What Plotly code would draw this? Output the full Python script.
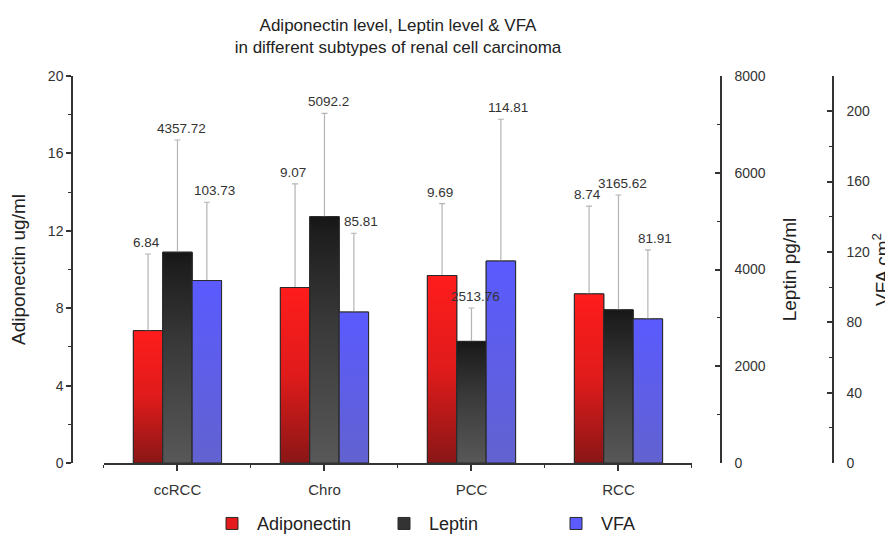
import plotly.graph_objects as go

# ---------------- data ----------------
categories = ["ccRCC", "Chro", "PCC", "RCC"]

adiponectin = [6.84, 9.07, 9.69, 8.74]
adiponectin_err = [3.96, 5.36, 3.71, 4.54]

leptin = [4357.72, 5092.2, 2513.76, 3165.62]
leptin_err = [2319, 2137, 690, 2374]

vfa = [103.73, 85.81, 114.81, 81.91]
vfa_err = [44.5, 44.8, 80.6, 39.2]

# ---------------- styling ----------------
FONT = "Liberation Sans, Arial, sans-serif"
AXC = "#333333"
BAR_W = 0.2

series = [
    dict(name="Adiponectin", vals=adiponectin, err=adiponectin_err, yaxis="y", off=-0.3,
         legend_color="#E41B1B", label_dx=-2,
         scale=[[0, "#8A1616"], [0.5, "#E01B1B"], [1, "#FF1C1C"]]),
    dict(name="Leptin", vals=leptin, err=leptin_err, yaxis="y2", off=-0.1,
         legend_color="#333333", label_dx=4.5,
         scale=[[0, "#585858"], [0.55, "#3A3A3A"], [0.93, "#1E1E1E"], [1, "#161616"]]),
    dict(name="VFA", vals=vfa, err=vfa_err, yaxis="y3", off=0.1,
         legend_color="#5B5BFF", label_dx=7.5,
         scale=[[0, "#6262D0"], [1, "#5A5AFF"]]),
]

idx = list(range(len(categories)))
fig = go.Figure()

# real bars (legend + error bars)
for s in series:
    fig.add_trace(go.Bar(
        name=s["name"], x=idx, y=s["vals"], width=BAR_W, offset=s["off"],
        yaxis=s["yaxis"],
        marker=dict(color=s["legend_color"], line=dict(color="#2a2a2a", width=1)),
        error_y=dict(type="data", symmetric=False, array=s["err"],
                     arrayminus=[0] * len(s["err"]),
                     color="#b4b4b4", thickness=1.2, width=3),
        hoverinfo="skip",
    ))

# gradient overlay for each bar, built from the same values
for s in series:
    for i, v in zip(idx, s["vals"]):
        x0 = i + s["off"]
        x1 = x0 + BAR_W
        fig.add_trace(go.Scatter(
            x=[x0, x1, x1, x0, x0], y=[0, 0, v, v, 0],
            yaxis=s["yaxis"], mode="lines", fill="toself",
            fillgradient=dict(type="vertical", colorscale=s["scale"], start=0, stop=v),
            line=dict(color="#2a2a2a", width=1),
            showlegend=False, hoverinfo="skip",
        ))

# value labels above error bars
annotations = []
for s in series:
    for i, v, e in zip(idx, s["vals"], s["err"]):
        annotations.append(dict(
            x=i + s["off"] + BAR_W / 2, y=v + e, xref="x", yref=s["yaxis"],
            text=f"{v:g}", showarrow=False, yanchor="bottom", yshift=2,
            xshift=s["label_dx"],
            font=dict(family=FONT, size=13.5, color="#333333"),
        ))

tickfont = dict(family=FONT, size=14, color="#333333")
titlefont = dict(family=FONT, size=19, color="#222222")

fig.update_layout(
    width=885, height=528,
    margin=dict(l=64, r=60, t=68, b=73, autoexpand=False),
    paper_bgcolor="white", plot_bgcolor="white",
    barmode="overlay",
    title=dict(
        text="Adiponectin level, Leptin level & VFA<br>in different subtypes of renal cell carcinoma",
        x=0.4407, xref="container", xanchor="center",
        y=0.9564, yref="container", yanchor="middle",
        font=dict(family=FONT, size=17, color="#222222"),
    ),
    font=dict(family=FONT),
    showlegend=True,
    legend=dict(orientation="h", x=0.1774, xanchor="left", y=-0.157, yanchor="middle",
                font=dict(family=FONT, size=18, color="#222222"),
                entrywidth=117, entrywidthmode="pixels", itemwidth=40,
                bgcolor="rgba(0,0,0,0)"),
    annotations=annotations,
    xaxis=dict(
        domain=[0.042, 0.8147], range=[-0.5, 3.5], anchor="y",
        tickmode="array", tickvals=idx, ticktext=categories,
        ticks="outside", ticklen=6, tickwidth=1.5, tickcolor=AXC,
        minor=dict(tick0=-0.5, dtick=1, ticks="outside", ticklen=3, tickwidth=1.2, tickcolor=AXC),
        showline=True, linecolor=AXC, linewidth=1.5, ticklabelstandoff=6,
        showgrid=False, zeroline=False,
        tickfont=dict(family=FONT, size=15, color="#333333"),
    ),
    yaxis=dict(
        anchor="free", position=0, range=[0, 20], tick0=0, dtick=4,
        ticks="outside", ticklen=5, tickwidth=1.5, tickcolor=AXC,
        minor=dict(dtick=2, ticks="outside", ticklen=3, tickwidth=1.2, tickcolor=AXC),
        showline=True, linecolor=AXC, linewidth=1.5,
        showgrid=False, zeroline=False, tickfont=tickfont,
        title=dict(text="Adiponectin ug/ml", font=titlefont, standoff=16),
    ),
    yaxis2=dict(
        overlaying="y", side="right", anchor="free", position=0.8528,
        range=[0, 8000], tick0=0, dtick=2000,
        ticks="inside", ticklen=5, tickwidth=1.5, tickcolor=AXC,
        minor=dict(dtick=1000, ticks="inside", ticklen=3, tickwidth=1.2, tickcolor=AXC),
        showline=True, linecolor=AXC, linewidth=1.5, ticklabelstandoff=10,
        showgrid=False, zeroline=False, tickfont=tickfont,
        title=dict(text="Leptin pg/ml", font=titlefont, standoff=17),
    ),
    yaxis3=dict(
        overlaying="y", side="right", anchor="free", position=1.0,
        range=[0, 220], tick0=0, dtick=40,
        ticks="inside", ticklen=5, tickwidth=1.5, tickcolor=AXC,
        minor=dict(tick0=0, dtick=20, ticks="inside", ticklen=3, tickwidth=1.2, tickcolor=AXC),
        showline=True, linecolor=AXC, linewidth=1.5, ticklabelstandoff=10,
        showgrid=False, zeroline=False, tickfont=tickfont,
        title=dict(text="VFA cm<sup>2</sup>", font=titlefont, standoff=8),
    ),
)

fig.write_html("out.html")
